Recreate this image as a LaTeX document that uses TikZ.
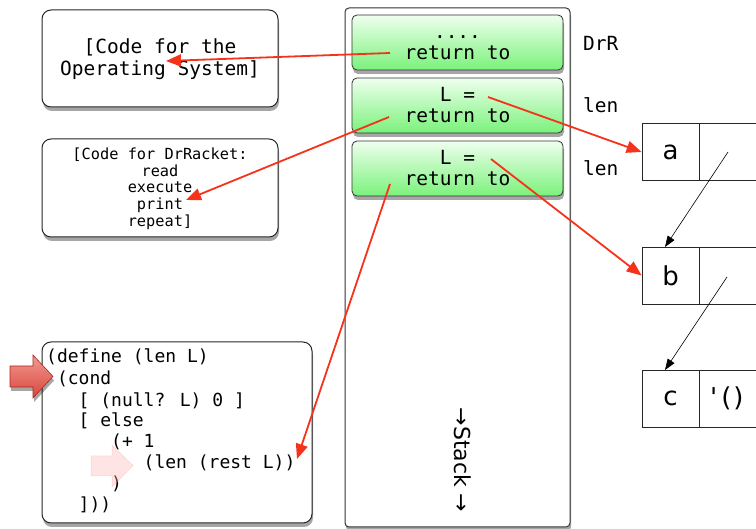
\documentclass[tikz,border=0pt]{standalone}
\usepackage{fontspec}
\setmainfont{DejaVu Sans}
\newfontfamily\monof{DejaVu Sans Mono}
\usetikzlibrary{shadows,arrows.meta}
\definecolor{arrred}{HTML}{F5321A}
\definecolor{frametop}{HTML}{EEFFEE}
\definecolor{framebot}{HTML}{7AF27A}
\definecolor{blocktop}{HTML}{F39A90}
\definecolor{blockbot}{HTML}{D8453C}
\definecolor{blockline}{HTML}{A82820}
\begin{document}
\begin{tikzpicture}[x=1pt,y=-1pt,
  shad/.style={drop shadow={shadow xshift=1pt,shadow yshift=-4pt,opacity=0.35,fill=black}},
  box/.style={draw=black!85,line width=1pt,rounded corners=9pt,fill=white,shad,inner sep=0pt,align=center},
  frame/.style={draw=black!80,line width=0.8pt,rounded corners=5pt,top color=frametop,bottom color=framebot,shad,
    minimum width=211pt,minimum height=55pt,inner sep=0pt,align=center,font={\monof\fontsize{19.5}{21}\selectfont}},
  cell/.style={draw=black!85,line width=0.8pt,fill=white,inner sep=0pt,minimum height=57pt,font={\fontsize{26}{28}\selectfont}},
  codeln/.style={anchor=west,inner sep=0pt,font={\monof\fontsize{18}{21}\selectfont}},
  lbl/.style={anchor=west,inner sep=0pt,font={\monof\fontsize{19.5}{21}\selectfont}},
  redarr/.style={draw=arrred,line width=1.8pt,-{Triangle[length=15pt,width=12pt]}},
  blkarr/.style={draw=black,line width=0.6pt,-{Triangle[length=11pt,width=8pt]}},
]
\useasboundingbox (0,0) rectangle (756,529);
\clip (0,0) rectangle (756,529);

% left boxes
\node[box,minimum width=236pt,minimum height=97pt,font={\monof\fontsize{19.5}{22}\selectfont}] (os) at (160,58.5)
  {\rule{0pt}{16pt}[Code for the\\Operating System]};
\node[box,minimum width=236pt,minimum height=98pt,font={\monof\fontsize{15.3}{16.8}\selectfont}] (drr) at (160,188)
  {\rule{0pt}{13pt}[Code for DrRacket:\\read\\execute\\print\\repeat]};
\node[box,minimum width=270pt,minimum height=181pt] (code) at (177,432.5) {};

% code lines
\node[codeln] (c1) at (46,357) {(define (len L)};
\node[codeln] (c2) at (56.8,379) {(cond};
\node[codeln] (c3) at (78.5,401) {[ (null? L) 0 ]};
\node[codeln] (c4) at (78.5,421) {[ else};
\node[codeln] (c5) at (111,442) {(+ 1};
\node[codeln] (c6) at (143.5,463) {(len (rest L))};
\node[codeln] (c7) at (111,484) {)};
\node[codeln] (c8) at (78.5,505) {]))};

% big block arrows
\draw[draw=blockline,line width=0.6pt,top color=blocktop,bottom color=blockbot,shad]
  (10,366) -- (33,366) -- (33,355) -- (53,376.5) -- (33,398) -- (33,387) -- (10,387) -- cycle;
\draw[draw=red!40,fill=red!30,fill opacity=0.35,draw opacity=0.35,line width=0.5pt]
  (91,456) -- (112,456) -- (112,445) -- (133,465.5) -- (112,487) -- (112,476) -- (91,476) -- cycle;

% stack
\node[draw=black!80,line width=1pt,rounded corners=4pt,fill=white,shad,minimum width=225pt,minimum height=519pt,inner sep=0pt] (stack) at (457.5,267.5) {};
\node[frame] (f1) at (457.5,42.5) {\vphantom{L}....\\return to};
\node[frame] (f2) at (457.5,105.5) {L =\\return to};
\node[frame] (f3) at (457.5,168.5) {L =\\return to};
\node[rotate=-90,inner sep=0pt,font={\fontsize{22}{24}\selectfont}] (stk) at (463,460) {→Stack →};

% labels
\node[lbl] (l1) at (583,43) {DrR};
\node[lbl] (l2) at (583,105) {len};
\node[lbl] (l3) at (583,168) {len};

% cons cells
\node[cell,minimum width=57pt] (a) at (670.5,152) {a};
\node[cell,minimum width=70pt] (ad) at (734,152) {};
\node[cell,minimum width=57pt] (b) at (670.5,275.5) {b};
\node[cell,minimum width=70pt] (bd) at (734,275.5) {};
\node[cell,minimum width=57pt] (c) at (670.5,398.5) {c};
\node[cell,minimum width=70pt] (cd) at (734,398.5) {};
\node[anchor=west,inner sep=0pt,font={\fontsize{26}{28}\selectfont}] (nil) at (710,398.5)
  {\textquotesingle\hspace{4pt}(\hspace{2pt})};

% coordinates
\coordinate (f1s) at (390,53);
\coordinate (f2s) at (389,117);
\coordinate (f3s) at (390,184);
\coordinate (f2l) at (488,97);
\coordinate (f3l) at (491,159);
\coordinate (ost) at (166,61);
\coordinate (drt) at (186,200);
\coordinate (cdt) at (297,459);
\coordinate (ap) at (728,152);
\coordinate (bp) at (727,277);
\coordinate (bt) at (665,247);
\coordinate (ct) at (665,370);

% red arrows
\draw[redarr] (f1s) -- (ost);
\draw[redarr] (f2s) -- (drt);
\draw[redarr] (f3s) -- (cdt);
\draw[redarr] (f2l) -- (a.west);
\draw[redarr] (f3l) -- (b.west);

% black arrows
\draw[blkarr] (ap) -- (bt);
\draw[blkarr] (bp) -- (ct);
\end{tikzpicture}
\end{document}
